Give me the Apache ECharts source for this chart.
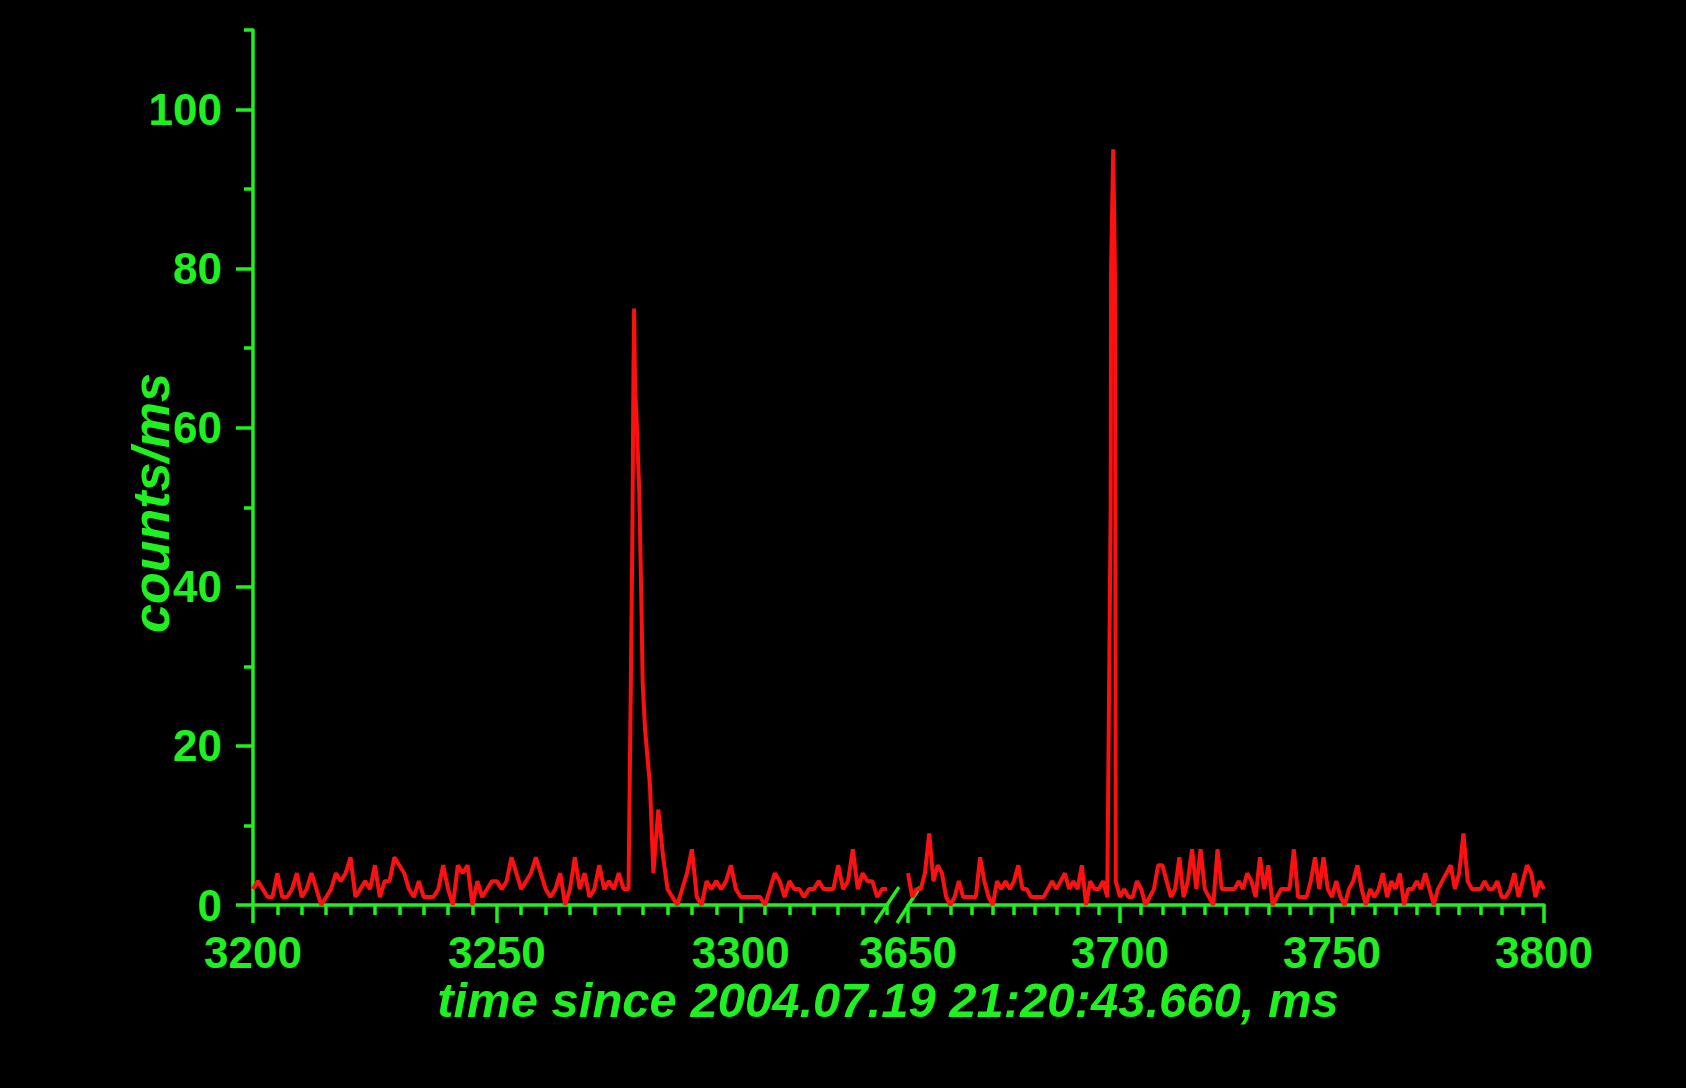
<!DOCTYPE html>
<html>
<head>
<meta charset="utf-8">
<script src="https://cdn.jsdelivr.net/npm/echarts@6/dist/echarts.min.js"></script>
<style>
  html, body { margin: 0; padding: 0; background: #000; }
  #main { width: 1686px; height: 1088px; }
</style>
</head>
<body>
<div id="main"></div>
<script>
// 计数曲线数据 [ms, counts/ms]
const leftData = [
  [3200,2],[3201,3],[3202,2],[3203,1],[3204,1],[3205,4],[3206,1],[3207,1],[3208,2],[3209,4],
  [3210,1],[3211,2],[3212,4],[3213,2],[3214,0],[3215,1],[3216,2],[3217,4],[3218,3],[3219,4],
  [3220,6],[3221,1],[3222,2],[3223,3],[3224,2],[3225,5],[3226,1],[3227,3],[3228,3],[3229,6],
  [3230,5],[3231,4],[3232,2],[3233,1],[3234,3],[3235,1],[3236,1],[3237,1],[3238,2],[3239,5],
  [3240,2],[3241,0],[3242,5],[3243,4],[3244,5],[3245,0],[3246,3],[3247,1],[3248,2],[3249,3],
  [3250,3],[3251,2],[3252,3],[3253,6],[3254,4],[3255,2],[3256,3],[3257,4],[3258,6],[3259,4],
  [3260,2],[3261,1],[3262,2],[3263,4],[3264,0],[3265,2],[3266,6],[3267,2],[3268,4],[3269,1],
  [3270,2],[3271,5],[3272,2],[3273,3],[3274,2],[3275,4],[3276,2],[3277,2],
  [3277.5,29],[3277.8,47],[3278.0,66],[3278.15,75],[3278.35,65],[3278.6,62],[3279.2,52],
  [3279.7,36],[3279.9,28],[3280.4,22],[3281.4,15],[3282.1,4],[3283.1,12],[3284.1,6],
  [3285,2],[3286,1],[3287,0],[3288,2],[3289,4],
  [3290,7],[3291,1],[3292,0],[3293,3],[3294,2],[3295,3],[3296,2],[3297,3],[3298,5],[3299,2],
  [3300,1],[3301,1],[3302,1],[3303,1],[3304,1],[3305,0],[3306,2],[3307,4],[3308,3],[3309,1],
  [3310,3],[3311,2],[3312,2],[3313,1],[3314,2],[3315,2],[3316,3],[3317,2],[3318,2],[3319,2],
  [3320,5],[3321,2],[3322,3],[3323,7],[3324,2],[3325,4],[3326,3],[3327,3],[3328,1],[3329,2],[3330,2]
];

const rightData = [
  [3650,4],[3651,1],[3652,2],[3653,2],[3654,4],[3655,9],[3656,3],[3657,5],[3658,4],[3659,1],
  [3660,0],[3661,1],[3662,3],[3663,1],[3664,1],[3665,1],[3666,1],[3667,6],[3668,3],[3669,1],
  [3670,0],[3671,3],[3672,2],[3673,3],[3674,2],[3675,3],[3676,5],[3677,2],[3678,2],[3679,1],
  [3680,1],[3681,1],[3682,1],[3683,2],[3684,3],[3685,2],[3686,3],[3687,4],[3688,2],[3689,3],
  [3690,2],[3691,5],[3692,0],[3693,3],[3694,2],[3695,2],[3696,3],[3697,1],
  [3697.8,50],[3697.9,80],[3698.4,95],[3698.8,80],[3698.9,50],[3699,3],
  [3700,1],[3701,2],[3702,1],[3703,1],[3704,3],[3705,2],[3706,0],[3707,1],[3708,2],[3709,5],
  [3710,5],[3711,3],[3712,1],[3713,2],[3714,6],[3715,1],[3716,3],[3717,7],[3718,2],[3719,7],
  [3720,2],[3721,1],[3722,0],[3723,7],[3724,2],[3725,2],[3726,2],[3727,2],[3728,3],[3729,2],
  [3730,4],[3731,3],[3732,1],[3733,6],[3734,2],[3735,5],[3736,0],[3737,1],[3738,2],[3739,2],
  [3740,2],[3741,7],[3742,1],[3743,1],[3744,1],[3745,3],[3746,6],[3747,2],[3748,6],[3749,2],
  [3750,1],[3751,3],[3752,1],[3753,0],[3754,2],[3755,3],[3756,5],[3757,2],[3758,0],[3759,2],
  [3760,1],[3761,2],[3762,4],[3763,1],[3764,3],[3765,2],[3766,4],[3767,0],[3768,2],[3769,2],
  [3770,3],[3771,2],[3772,4],[3773,2],[3774,0],[3775,2],[3776,3],[3777,4],[3778,5],[3779,2],
  [3780,4],[3781,9],[3782,3],[3783,2],[3784,2],[3785,2],[3786,3],[3787,2],[3788,2],[3789,3],
  [3790,1],[3791,1],[3792,2],[3793,4],[3794,1],[3795,3],[3796,5],[3797,4],[3798,1],[3799,3],[3800,2]
];

// 坐标轴范围与刻度
const leftRange = [3200, 3330];
const rightRange = [3650, 3800];
const leftLabels = [3200, 3250, 3300];
const rightLabels = [3650, 3700, 3750, 3800];
const yLabels = [0, 20, 40, 60, 80, 100];
const yMinorTicks = [10, 30, 50, 70, 90, 110];
const yMax = 110;
const minorStep = 5;

const xTitle = 'time since 2004.07.19 21:20:43.660, ms';
const yTitle = 'counts/ms';

const green = '#1ff01f';
const red = '#ff1010';
const fontFamily = '"Liberation Sans", Arial, sans-serif';

// 小刻度（每 5 ms，去掉大刻度位置）
function minorTicks(range, majors) {
  const out = [];
  for (let v = range[0]; v <= range[1]; v += minorStep) {
    if (majors.indexOf(v) < 0) out.push(v);
  }
  return out;
}

// 布局
const gridTop = 30, gridBottom = 183;
const leftX = 253, leftW = 634;
const rightX = 908, rightW = 636;
const axisY = 1088 - gridBottom;

var myChart = echarts.init(document.getElementById('main'), null, { renderer: 'svg' });

function plain(v) { return String(v); }

function xAxisPair(gridIndex, range, labels) {
  return [
    {
      gridIndex: gridIndex, type: 'value', position: 'bottom',
      min: range[0], max: range[1],
      axisLine: { lineStyle: { color: green, width: 3.5 } },
      axisTick: { customValues: labels, length: 18, lineStyle: { color: green, width: 3.5 } },
      axisLabel: {
        customValues: labels, formatter: plain, color: green, fontSize: 44, fontWeight: 'bold',
        fontFamily: fontFamily, margin: 30, lineHeight: 34
      },
      splitLine: { show: false }
    },
    {
      gridIndex: gridIndex, type: 'value', position: 'bottom',
      min: range[0], max: range[1],
      axisLine: { show: false },
      axisTick: { customValues: minorTicks(range, labels), length: 10, lineStyle: { color: green, width: 3.5 } },
      axisLabel: { show: false },
      splitLine: { show: false }
    }
  ];
}

var option = {
  backgroundColor: '#000',
  animation: false,
  grid: [
    { left: leftX, width: leftW, top: gridTop, bottom: gridBottom },
    { left: rightX, width: rightW, top: gridTop, bottom: gridBottom }
  ],
  xAxis: xAxisPair(0, leftRange, leftLabels).concat(xAxisPair(1, rightRange, rightLabels)),
  yAxis: [
    {
      gridIndex: 0, type: 'value', position: 'left', min: 0, max: yMax,
      axisLine: { show: true, lineStyle: { color: green, width: 3.5 } },
      axisTick: { show: true, customValues: yLabels, length: 17, lineStyle: { color: green, width: 3.5 } },
      axisLabel: {
        customValues: yLabels, formatter: plain, color: green, fontSize: 44, fontWeight: 'bold',
        fontFamily: fontFamily, margin: 31, lineHeight: 34
      },
      splitLine: { show: false }
    },
    {
      gridIndex: 0, type: 'value', position: 'left', min: 0, max: yMax,
      axisLine: { show: false },
      axisTick: { show: true, customValues: yMinorTicks, length: 9, lineStyle: { color: green, width: 3.5 } },
      axisLabel: { show: false },
      splitLine: { show: false }
    },
    { gridIndex: 1, type: 'value', min: 0, max: yMax, show: false }
  ],
  series: [
    {
      type: 'line', xAxisIndex: 0, yAxisIndex: 0, data: leftData,
      showSymbol: false, lineStyle: { color: red, width: 4 }
    },
    {
      type: 'line', xAxisIndex: 2, yAxisIndex: 2, data: rightData,
      showSymbol: false, lineStyle: { color: red, width: 4 }
    }
  ],
  graphic: [
    // 断轴斜线
    {
      type: 'line', silent: true,
      shape: { x1: leftX + leftW - 12, y1: axisY + 18, x2: leftX + leftW + 12, y2: axisY - 18 },
      style: { stroke: green, lineWidth: 3.5 }
    },
    {
      type: 'line', silent: true,
      shape: { x1: rightX - 11, y1: axisY + 18, x2: rightX + 12, y2: axisY - 18 },
      style: { stroke: green, lineWidth: 3.5 }
    },
    {
      type: 'text', x: 888, y: 1000, silent: true,
      style: {
        text: xTitle, fill: green, font: 'italic bold 49px ' + fontFamily, lineHeight: 38,
        align: 'center', verticalAlign: 'middle', textAlign: 'center', textVerticalAlign: 'middle'
      }
    },
    {
      type: 'text', x: 151, y: 503, rotation: Math.PI / 2, silent: true,
      style: {
        text: yTitle, fill: green, font: 'italic bold 52px ' + fontFamily, lineHeight: 40,
        align: 'center', verticalAlign: 'middle', textAlign: 'center', textVerticalAlign: 'middle'
      }
    }
  ]
};

myChart.setOption(option);
</script>
</body>
</html>
